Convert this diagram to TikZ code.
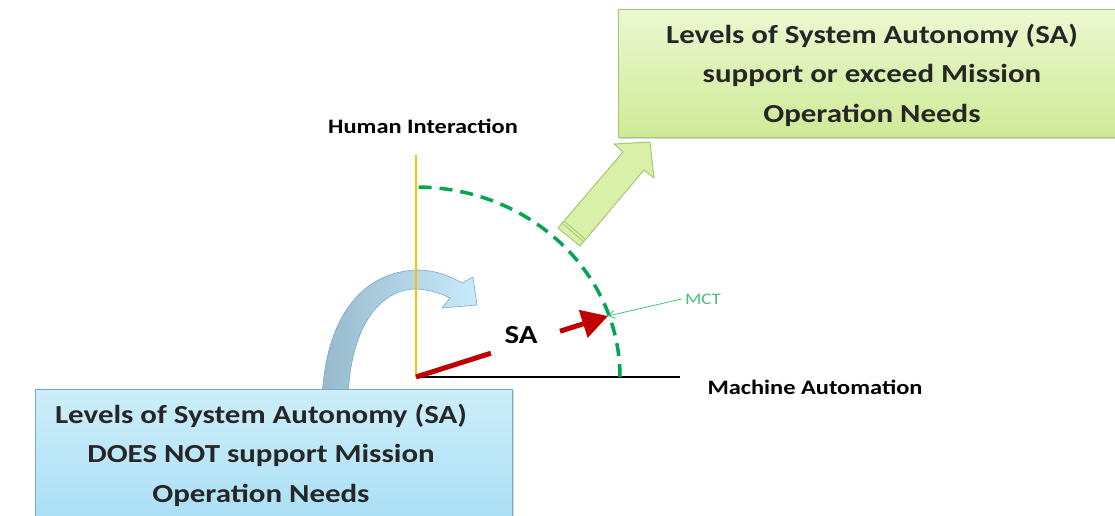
\documentclass[tikz,border=0pt]{standalone}
\usepackage{fontspec}
\setmainfont{Carlito}[FakeStretch=1.19]
\usetikzlibrary{arrows.meta}
\usetikzlibrary{positioning}
\usetikzlibrary{calc}
\usetikzlibrary{shadows}
\definecolor{axisyellow}{RGB}{255,192,0}
\definecolor{mctgreen}{RGB}{0,166,81}
\definecolor{mctlabel}{RGB}{70,195,115}
\definecolor{vecred}{RGB}{192,0,0}
\definecolor{boxgreentop}{RGB}{236,248,208}
\definecolor{boxgreenbot}{RGB}{206,234,150}
\definecolor{boxgreenline}{RGB}{165,195,125}
\definecolor{boxbluetop}{RGB}{205,238,250}
\definecolor{boxbluebot}{RGB}{168,222,245}
\definecolor{boxblueline}{RGB}{120,170,200}
\definecolor{arrowgreen}{RGB}{216,240,168}
\definecolor{arrowgreenline}{RGB}{165,200,115}
\definecolor{curvedark}{RGB}{150,185,205}
\definecolor{curvelight}{RGB}{200,236,250}

\begin{document}
\begin{tikzpicture}[x=1pt, y=-1pt,
    axislabel/.style={font=\fontsize{20.5}{24}\selectfont\bfseries},
    boxtext/.style={font=\fontsize{26}{39.5}\selectfont\bfseries, align=center, text=black!85},
    infobox/.style={rectangle, line width=1pt, drop shadow={shadow xshift=2pt, shadow yshift=-2pt, opacity=0.3}},
    goodbox/.style={infobox, draw=boxgreenline, top color=boxgreentop, bottom color=boxgreenbot, minimum width=508pt, minimum height=127pt},
    badbox/.style={infobox, draw=boxblueline, top color=boxbluetop, bottom color=boxbluebot, minimum width=477pt, minimum height=141pt},
    redvec/.style={vecred, line width=5pt},
  ]
  \useasboundingbox (0,0) rectangle (1115,516);

  % points of the diagram
  \coordinate (O) at (416,377);
  \coordinate (yend) at (416,155);
  \coordinate (xend) at (680,377);
  \coordinate (P) at (608,316);

  % curved arrow coming out of the lower box
  \draw[draw=boxblueline, left color=curvedark, right color=curvelight, line width=0.6pt, line join=round]
    (322,400) .. controls (325,320) and (360,272) .. (417,270)
    .. controls (435,270) and (450,276) .. (462,283)
    -- (473,277) -- (477,305) -- (442,308) -- (450,298)
    .. controls (440,293) and (430,290) .. (417,289)
    .. controls (385,288) and (350,320) .. (348,400) -- cycle;

  % draw axes
  \draw[axisyellow, line width=2pt] (yend) -- (O);
  \draw[black, line width=2pt] (O) -- (xend);
  \node[axislabel] (hi) at (423,126) {Human Interaction};
  \node[axislabel] (ma) at (815,387) {Machine Automation};

  % threshold arc
  \draw[mctgreen, line width=3.5pt, dash pattern=on 13pt off 8pt] ($(O)+(204,0)$) arc[start angle=0, end angle=90, x radius=204pt, y radius=190pt];

  % system autonomy vector
  \draw[redvec] (O) -- ($(O)!0.39!(P)$);
  \draw[redvec, -{Triangle[length=26pt, width=28pt]}] ($(O)!0.75!(P)$) -- (P);
  \node[font=\fontsize{26}{30}\selectfont\bfseries] (sa) at (521,335) {SA};

  \node[mctlabel, font=\fontsize{16}{18}\selectfont] (mct) at (703,299) {MCT};
  \draw[mctlabel, line width=0.8pt, -{Straight Barb[length=6pt, width=8pt]}] (mct.west) -- (P);

  % block arrow to the upper box
  \filldraw[draw=arrowgreenline, fill=arrowgreen, line width=1pt, line join=round]
    (558,228) -- (623,152) -- (614,144) -- (650,142) -- (654,178) -- (644,170) -- (580,246) -- cycle;
  \draw[arrowgreenline, line width=0.8pt] (562,223) -- (583,241);
  \draw[arrowgreenline, line width=0.8pt] (564,221) -- (585,239);

  % boxes
  \node[goodbox] (good) at (872,73.5) {};
  \node[boxtext] (goodtext) at (872,75) {Levels of System Autonomy (SA)\\support or exceed Mission\\Operation Needs};
  \node[badbox] (bad) at (273.5,459.5) {};
  \node[boxtext] (badtext) at (261,455) {Levels of System Autonomy (SA)\\DOES NOT support Mission\\Operation Needs};
\end{tikzpicture}
\end{document}
